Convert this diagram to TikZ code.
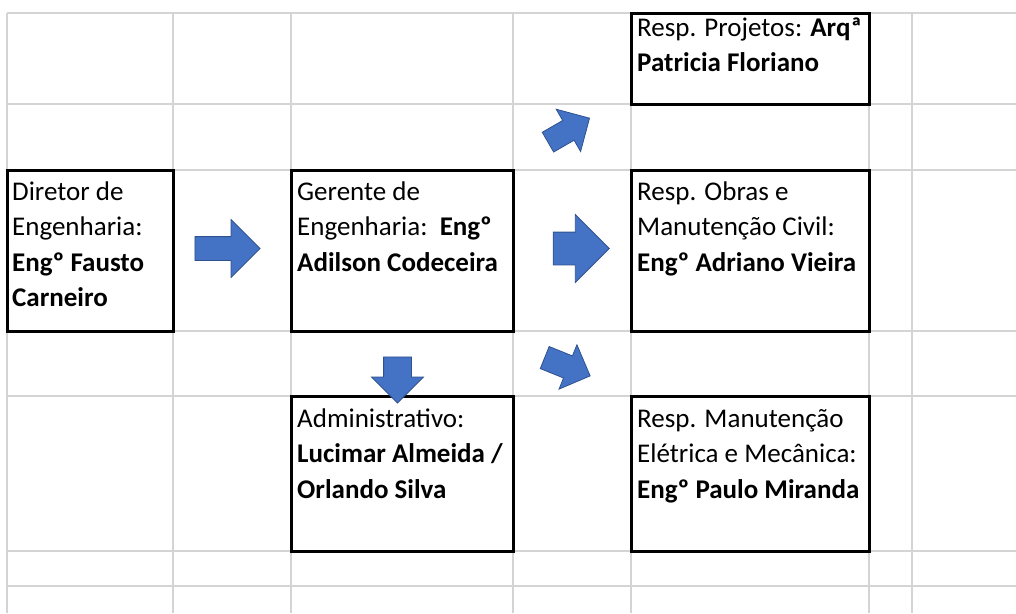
\documentclass[tikz,border=0pt]{standalone}
\usepackage{fontspec}
\setmainfont{Carlito}
\usetikzlibrary{shapes.arrows}
\definecolor{SheetGrid}{RGB}{212,212,212}
\definecolor{ArrowBlue}{RGB}{68,114,196}
\definecolor{ArrowEdge}{RGB}{47,82,143}

\begin{document}
\begin{tikzpicture}[x=1pt,y=-1pt,
sheetline/.style={draw=SheetGrid,line width=1.2pt},
box/.style={rectangle,draw=black,fill=white,line width=3pt,anchor=north west,
inner sep=0pt,outer sep=0pt},
txt/.style={anchor=north west,inner sep=0pt,align=left,font=\fontsize{27}{35.5}\selectfont},
blockarrow/.style={single arrow,draw=ArrowEdge,fill=ArrowBlue,line width=0.8pt,
inner sep=0pt,text depth=0pt,single arrow head extend=#1}
]
\useasboundingbox (0,0) rectangle (1016,613);
% spreadsheet grid
\foreach \x in {7,173,291,513,631,869,912}
  \draw[sheetline] (\x,13) -- (\x,613);
\foreach \y in {13,104,170,331,396,551,586}
  \draw[sheetline] (7,\y) -- (1016,\y);
% boxes
\node[box,minimum width=166pt,minimum height=161pt] (dir) at (7,170) {};
\node[box,minimum width=222pt,minimum height=161pt] (ger) at (291,170) {};
\node[box,minimum width=238pt,minimum height=91pt] (proj) at (631,13) {};
\node[box,minimum width=238pt,minimum height=161pt] (obras) at (631,170) {};
\node[box,minimum width=222pt,minimum height=155pt] (adm) at (291,396) {};
\node[box,minimum width=238pt,minimum height=155pt] (manut) at (631,396) {};
% texts
\node[txt] (dirt) at ([shift={(5pt,-5.15pt)}]dir.north west)
  {\strut Diretor de\\\strut Engenharia:\\\strut\textbf{Engº Fausto}\\\strut\textbf{Carneiro}};
\node[txt] (gert) at ([shift={(6pt,-5.15pt)}]ger.north west)
  {\strut Gerente de\\\strut Engenharia:\ \ \textbf{Engº}\\\strut\textbf{Adilson Codeceira}};
\node[txt] (projt) at ([shift={(6pt,1.85pt)}]proj.north west)
  {\strut Resp. Projetos: \textbf{Arqª}\\\strut\textbf{Patricia Floriano}};
\node[txt] (obrast) at ([shift={(6pt,-5.15pt)}]obras.north west)
  {\strut Resp. Obras e\\\strut Manutenção Civil:\\\strut\textbf{Engº Adriano Vieira}};
\node[txt] (admt) at ([shift={(6pt,-6.15pt)}]adm.north west)
  {\strut Administrativo:\\\strut\textbf{Lucimar Almeida /}\\\strut\textbf{Orlando Silva}};
\node[txt] (manutt) at ([shift={(6pt,-6.15pt)}]manut.north west)
  {\strut Resp. Manutenção\\\strut Elétrica e Mecânica:\\\strut\textbf{Engº Paulo Miranda}};
% block arrows
\node[blockarrow=17pt,text height=23pt,minimum width=57pt,minimum height=65pt] (a1) at (221.5,248.5) {};
\node[blockarrow=17.5pt,text height=32pt,minimum width=67pt,minimum height=56pt] (a2) at (573,248.5) {};
\node[blockarrow=12pt,text height=27pt,minimum width=51pt,minimum height=46pt,rotate=-90] (a3) at (397.5,373) {};
\node[blockarrow=13pt,text height=22pt,minimum width=48pt,minimum height=48pt,rotate=30] (a4) at (563.8,133) {};
\node[blockarrow=12pt,text height=23pt,minimum width=47pt,minimum height=49pt,rotate=-22] (a5) at (561.9,364.5) {};
\end{tikzpicture}
\end{document}
